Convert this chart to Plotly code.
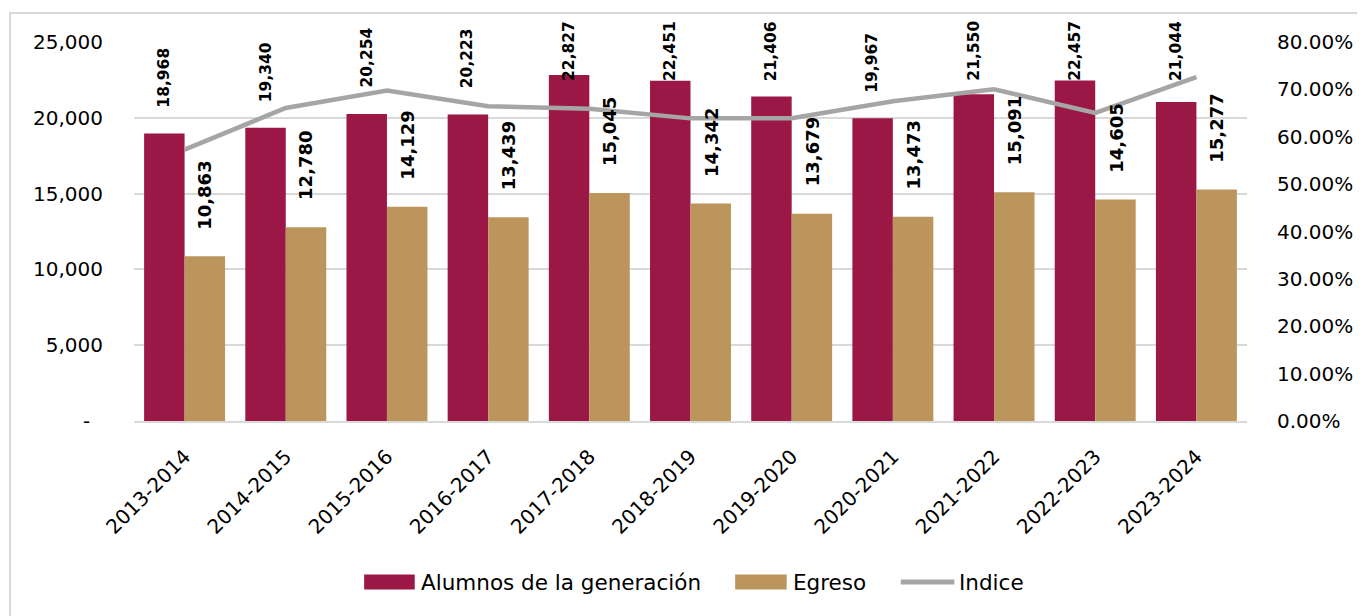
import plotly.graph_objects as go

# ─────────────────────────────────────────────────────────────
# DATA
# ─────────────────────────────────────────────────────────────

CICLOS = ['2013-2014', '2014-2015', '2015-2016', '2016-2017', '2017-2018', '2018-2019',
          '2019-2020', '2020-2021', '2021-2022', '2022-2023', '2023-2024']
ALUMNOS = [18968, 19340, 20254, 20223, 22827, 22451, 21406, 19967, 21550, 22457, 21044]
EGRESO = [10863, 12780, 14129, 13439, 15045, 14342, 13679, 13473, 15091, 14605, 15277]
INDICE = [0.5727, 0.6608, 0.6976, 0.6645, 0.6591, 0.6388, 0.6390, 0.6748, 0.7003, 0.6504, 0.7260]

Y_TICKS = [0, 5000, 10000, 15000, 20000, 25000]
Y_TICKTEXT = ['-\u00a0\u00a0', '5,000', '10,000', '15,000', '20,000', '25,000']

COLORS = {
    'alumnos': '#9B1746',
    'egreso':  '#BC955C',
    'indice':  '#A5A5A5',
    'grid':    '#D9D9D9',
    'text':    '#000000',
}

FONT = 'DejaVu Sans'

# plot area in page pixels (page has an 8px body margin)
PLOT_L, PLOT_R, PLOT_T, PLOT_B = 134, 1256, 42, 421


def px(x):
    return (x - PLOT_L) / (PLOT_R - PLOT_L)


def py(y):
    return (PLOT_B - y) / (PLOT_B - PLOT_T)

# ─────────────────────────────────────────────────────────────
# FIGURE
# ─────────────────────────────────────────────────────────────

fig = go.Figure()

fig.add_trace(go.Bar(
    x=CICLOS, y=ALUMNOS, name='Alumnos de la generación',
    marker=dict(color=COLORS['alumnos'], line=dict(width=0)),
))
fig.add_trace(go.Bar(
    x=CICLOS, y=EGRESO, name='Egreso',
    marker=dict(color=COLORS['egreso'], line=dict(width=0)),
))
fig.add_trace(go.Scatter(
    x=CICLOS, y=INDICE, name='Indice', yaxis='y2',
    mode='lines', line=dict(color=COLORS['indice'], width=4.5),
))

# data labels, rotated, a bit above the bars (clamped inside the plot like Excel does)
SHIFT_A, CAP_A, SHIFT_E = 1583, 22296, 1650
for cat, a, e in zip(CICLOS, ALUMNOS, EGRESO):
    fig.add_annotation(
        x=cat, y=min(a + SHIFT_A, CAP_A), xref='x', yref='y',
        text=f'<b>{a:,}</b>', textangle=-90, showarrow=False,
        xanchor='center', yanchor='bottom', xshift=-20.4,
        font=dict(family=FONT, size=15.5, color=COLORS['text']),
    )
    fig.add_annotation(
        x=cat, y=e + SHIFT_E, xref='x', yref='y',
        text=f'<b>{e:,}</b>', textangle=-90, showarrow=False,
        xanchor='center', yanchor='bottom', xshift=20.4,
        font=dict(family=FONT, size=18, color=COLORS['text']),
    )

# outer frame of the chart
fig.add_shape(
    type='rect', xref='paper', yref='paper',
    x0=px(9), x1=px(1380), y0=py(640), y1=py(13),
    line=dict(color=COLORS['grid'], width=2), fillcolor='rgba(0,0,0,0)',
    layer='below',
)

# legend drawn by hand: wide swatches like the original
LEG_Y = 582
for x0, x1, color, label in [
    (366, 417, COLORS['alumnos'], 'Alumnos de la generación'),
    (740, 792, COLORS['egreso'], 'Egreso'),
]:
    fig.add_shape(
        type='rect', xref='paper', yref='paper',
        x0=px(x0), x1=px(x1), y0=py(LEG_Y + 7.5), y1=py(LEG_Y - 7.5),
        fillcolor=color, line=dict(width=0),
    )
    fig.add_annotation(
        x=px(x1 + 4), y=py(LEG_Y), xref='paper', yref='paper',
        text=label, showarrow=False, xanchor='left', yanchor='middle',
        font=dict(family=FONT, size=21.5, color=COLORS['text']),
    )
fig.add_shape(
    type='line', xref='paper', yref='paper',
    x0=px(907), x1=px(961), y0=py(LEG_Y), y1=py(LEG_Y),
    line=dict(color=COLORS['indice'], width=5),
)
fig.add_annotation(
    x=px(964), y=py(LEG_Y), xref='paper', yref='paper',
    text='Indice', showarrow=False, xanchor='left', yanchor='middle',
    font=dict(family=FONT, size=21.5, color=COLORS['text']),
)

fig.update_layout(
    width=1357, height=608,
    margin=dict(l=PLOT_L - 8, r=1365 - PLOT_R, t=PLOT_T - 8, b=616 - PLOT_B),
    paper_bgcolor='white', plot_bgcolor='white',
    font=dict(family=FONT, size=20, color=COLORS['text']),
    barmode='group', bargap=0.2, bargroupgap=0,
    showlegend=False,
    xaxis=dict(
        tickangle=-45, showgrid=False, showline=True, linecolor=COLORS['grid'], linewidth=2,
        ticks='', ticklabelstandoff=14, tickfont=dict(size=20),
    ),
    yaxis=dict(
        range=[0, 25000], tickvals=Y_TICKS, ticktext=Y_TICKTEXT,
        showgrid=True, gridcolor=COLORS['grid'], gridwidth=1.5,
        zeroline=False, showline=False, ticks='', ticklabelstandoff=30,
        tickfont=dict(size=20),
    ),
    yaxis2=dict(
        range=[0, 0.8], dtick=0.1, tickformat='.2%', overlaying='y', side='right',
        showgrid=False, zeroline=False, showline=False, ticks='', ticklabelstandoff=29,
        tickfont=dict(size=20),
    ),
)

fig.write_html('out.html')
